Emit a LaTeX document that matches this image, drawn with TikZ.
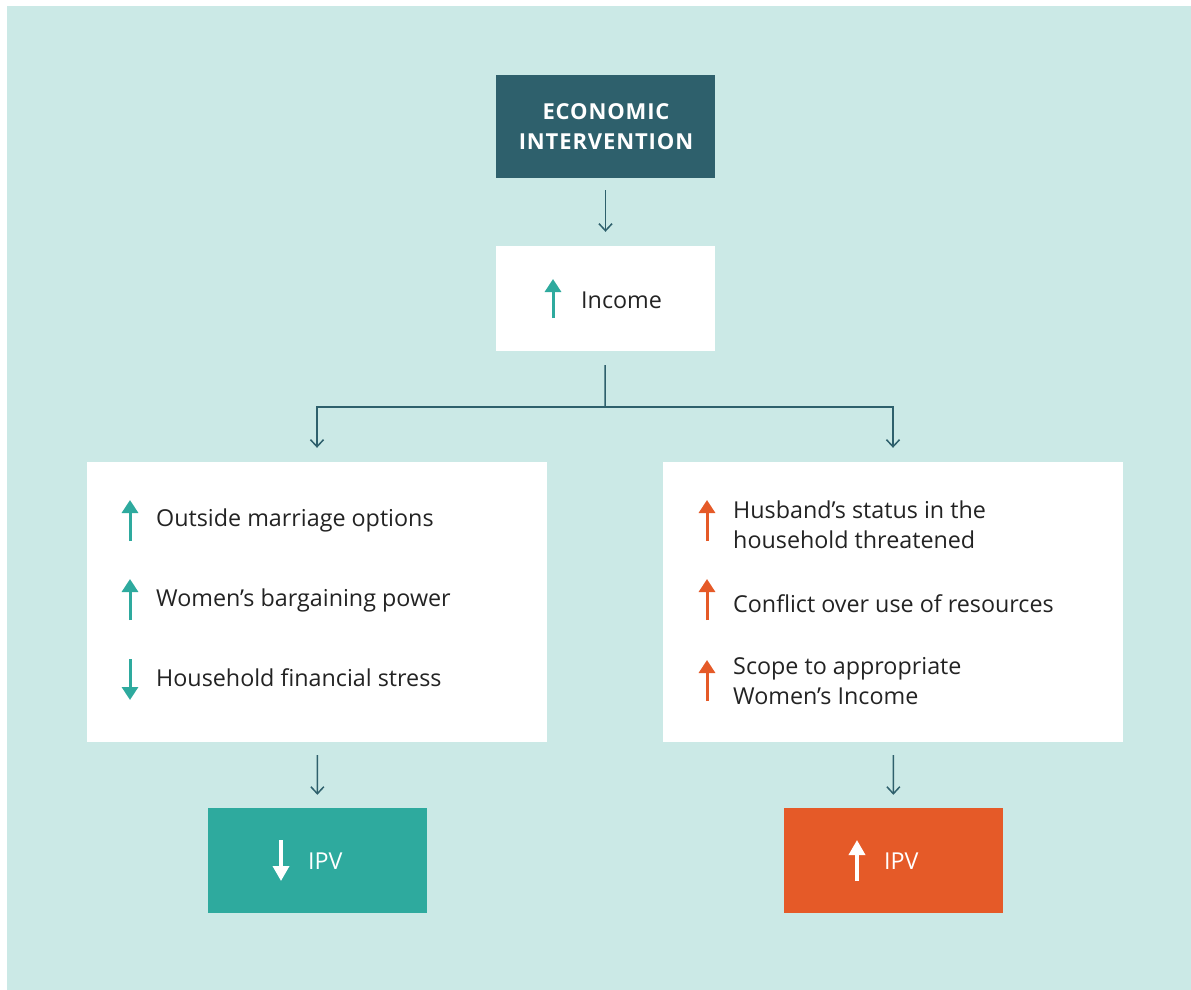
\documentclass[tikz,border=0pt]{standalone}
\usepackage{fontspec}
\setmainfont{Open Sans}
\newfontfamily\headfont{Open Sans}[LetterSpace=4]
\usetikzlibrary{arrows.meta}
\definecolor{bgteal}{RGB}{203,233,230}
\definecolor{darkteal}{RGB}{46,96,108}
\definecolor{midteal}{RGB}{46,170,158}
\definecolor{rust}{RGB}{229,90,40}
\definecolor{ink}{RGB}{35,35,35}
\tikzset{
	box/.style={draw=none, inner sep=0pt},
	label text/.style={anchor=west, inner sep=0pt, text=ink, font=\fontsize{23.3}{30}\selectfont, align=left},
	link/.style={draw=darkteal, line width=1.5pt},
	conn/.style={link, -{Straight Barb[length=7pt,width=13pt]}},
	uparr/.style={line width=3pt, -{Triangle[length=13pt,width=16pt]}}
}
\begin{document}
\begin{tikzpicture}[x=1pt,y=-1pt]
			\useasboundingbox (0,0) rectangle (1191,990);
			\fill[bgteal] (7,6) rectangle (1191,990);
			\node[box, fill=darkteal, minimum width=219pt, minimum height=103pt] (econ) at (605.5,126.5) {};
			\node[text=white, align=center, font=\headfont\bfseries\fontsize{22}{30}\selectfont] (econtext) at (606,127) {ECONOMIC\\INTERVENTION};
			\node[box, fill=white, minimum width=219pt, minimum height=105pt] (income) at (605.5,298.5) {};
			\node[label text] (incometext) at (581,300) {Income};
			\draw[uparr, midteal] (553,318) -- (553,279);
			\coordinate (split) at (605,407);
			\node[box, fill=white, minimum width=460pt, minimum height=280pt] (pros) at (317,602) {};
			\node[box, fill=white, minimum width=460pt, minimum height=280pt] (cons) at (893,602) {};
			\node[label text] (options) at (156,520) {Outside marriage options};
			\node[label text] (bargain) at (156,600) {Women’s bargaining power};
			\node[label text] (stress) at (156,678) {Household financial stress};
			\draw[uparr, midteal] (130,541) -- (130,500);
			\draw[uparr, midteal] (130,620) -- (130,579);
			\draw[uparr, midteal] (130,659) -- (130,700);
			\node[label text] (status) at (733,525) {Husband’s status in the\\household threatened};
			\node[label text] (conflict) at (733,604) {Conflict over use of resources};
			\node[label text] (scope) at (733,681) {Scope to appropriate\\Women’s Income};
			\draw[uparr, rust] (707,541) -- (707,500);
			\draw[uparr, rust] (707,620) -- (707,579);
			\draw[uparr, rust] (707,701) -- (707,660);
			\node[box, fill=midteal, minimum width=219pt, minimum height=105pt] (lowipv) at (317.5,860.5) {};
			\node[box, fill=rust, minimum width=219pt, minimum height=105pt] (highipv) at (893.5,860.5) {};
			\node[label text, text=white] (lowtext) at (308,861) {IPV};
			\node[label text, text=white] (hightext) at (884,861) {IPV};
			\draw[uparr, white, line width=3.5pt, -{Triangle[length=15pt,width=16pt]}] (281,840) -- (281,881);
			\draw[uparr, white, line width=3.5pt, -{Triangle[length=15pt,width=16pt]}] (857,881) -- (857,840);
			\draw[conn, shorten <=12pt, shorten >=14pt] (econ) -- (income);
			\draw[link, shorten <=14pt] (income) -- (split);
			\draw[conn, shorten >=14pt] (split) -| (pros);
			\draw[conn, shorten >=14pt] (split) -| (cons);
			\draw[conn, shorten <=13pt, shorten >=13pt] (pros) -- (lowipv);
			\draw[conn, shorten <=13pt, shorten >=13pt] (cons) -- (highipv);
			\end{tikzpicture}
\end{document}
